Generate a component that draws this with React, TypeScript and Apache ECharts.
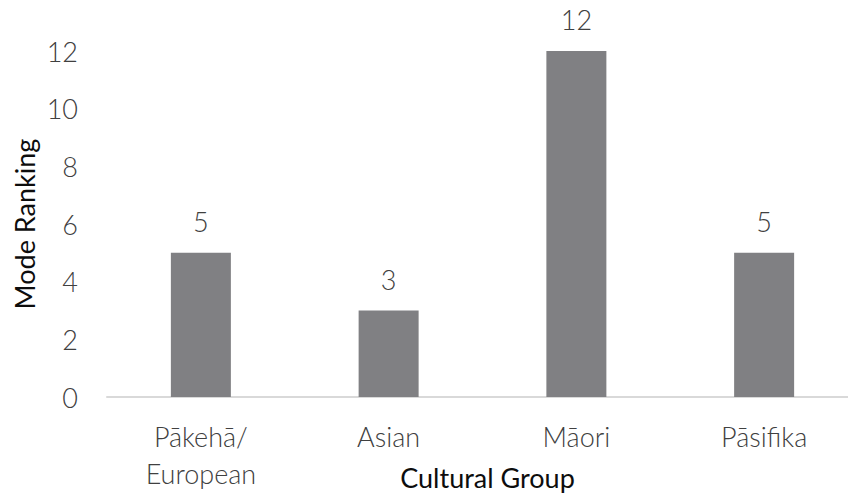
import React, { useEffect, useRef } from "react";
import * as echarts from "echarts";

const categories = ["Pākehā/\nEuropean", "Asian", "Māori", "Pāsifika"];
const values = [5, 3, 12, 5];
const yTicks = [0, 2, 4, 6, 8, 10, 12];

export default function App() {
  const ref = useRef<HTMLDivElement>(null);
  useEffect(() => {
    const chart = echarts.init(ref.current!, null, { renderer: "svg" });
    const font = "Lato, 'Open Sans', sans-serif";
    chart.setOption({
      animation: false,
      backgroundColor: "#ffffff",
      grid: {
        left: 107,
        top: 51,
        width: 751,
        height: 346,
        containLabel: false,
        outerBoundsMode: "none",
      },
      xAxis: {
        type: "category",
        data: categories,
        axisLine: { show: true, lineStyle: { color: "#d9d9d9", width: 2 } },
        axisTick: { show: false },
        axisLabel: { color: "#404040", fontSize: 27, fontWeight: 300, fontFamily: font, margin: 21, lineHeight: 37 },
        name: "Cultural Group",
        nameLocation: "middle",
        nameGap: 67,
        nameMoveOverlap: false,
        nameTextStyle: { color: "#0d0d0d", fontSize: 27, fontFamily: font, padding: [0, 0, 0, 10] },
      },
      yAxis: {
        type: "value",
        min: yTicks[0],
        max: yTicks[yTicks.length - 1],
        interval: 2,
        splitLine: { show: false },
        axisLine: { show: false },
        axisTick: { show: false },
        axisLabel: { color: "#404040", fontSize: 27, fontWeight: 300, fontFamily: font, margin: 29 },
        name: "Mode Ranking",
        nameLocation: "middle",
        nameGap: 69,
        nameMoveOverlap: false,
        nameTextStyle: { color: "#0d0d0d", fontSize: 27, fontFamily: font },
      },
      series: [
        {
          type: "bar",
          data: values,
          barWidth: 60,
          itemStyle: { color: "#808083" },
          label: {
            show: true,
            position: "top",
            distance: 18,
            color: "#404040",
            fontSize: 27,
            fontWeight: 300,
            fontFamily: font,
          },
        },
      ],
    });
    return () => chart.dispose();
  }, []);
  return <div ref={ref} style={{ width: 848, height: 495, position: "absolute", left: 0, top: 0 }} />;
}
